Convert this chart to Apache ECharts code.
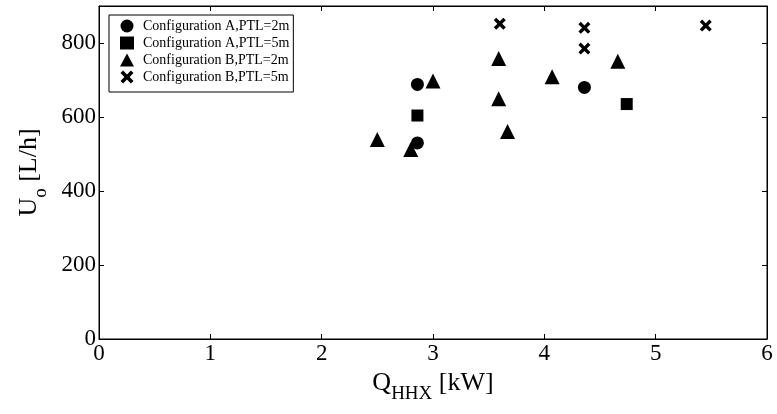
<!DOCTYPE html>
<html><head><meta charset="utf-8">
<script src="https://cdn.jsdelivr.net/npm/echarts@6/dist/echarts.min.js"></script>
<style>html,body{margin:0;padding:0;background:#fff}#c{width:777px;height:414px}</style>
</head><body><div id="c"></div>
<script>
const seriesNames = ['Configuration A,PTL=2m','Configuration A,PTL=5m','Configuration B,PTL=2m','Configuration B,PTL=5m'];
const aPtl2 = [[2.86,688],[2.86,530],[4.36,680]];
const aPtl5 = [[2.86,604],[4.74,635]];
const bPtl2 = [[2.50,539],[2.80,512],[3.00,697],[3.59,758],[3.59,649],[3.67,561],[4.07,709],[4.66,751]];
const bPtl5 = [[3.60,852],[4.36,841],[4.36,785],[5.45,847]];
const xTicks = [0,1,2,3,4,5,6];
const yTicks = [0,200,400,600,800];

const FONT = 'Liberation Serif';
const crossPath = 'path://M2,0L5,3L8,0L10,2L7,5L10,8L8,10L5,7L2,10L0,8L3,5L0,2Z';
const chart = echarts.init(document.getElementById('c'));
const axisLineStyle = {color:'#000', width:1};
const nameRich = {
  a:{fontFamily:FONT,fontSize:26,color:'#000',verticalAlign:'top',lineHeight:30},
  s:{fontFamily:FONT,fontSize:19,color:'#000',verticalAlign:'top',padding:[15,0,0,0],lineHeight:30}
};
chart.setOption({
  animation:false,
  textStyle:{fontFamily:FONT},
  grid:{left:99, right:10, top:6, bottom:75, show:true, borderColor:'#000', borderWidth:1, backgroundColor:'transparent'},
  legend:{
    orient:'vertical', left:109, top:15,
    borderColor:'#000', borderWidth:1, padding:[4,4,8,11],
    itemGap:3, itemWidth:14, itemHeight:13,
    textStyle:{fontFamily:FONT, fontSize:14, color:'#000', padding:[0,0,0,4]},
    data:seriesNames
  },
  xAxis:[{
    type:'value', min:0, max:6, interval:1,
    name:'{a|Q}{s|HHX}{a| [kW]}', nameLocation:'middle', nameGap:22,
    nameTextStyle:{rich:nameRich},
    axisLine:{lineStyle:axisLineStyle},
    axisTick:{inside:true, length:5, lineStyle:axisLineStyle},
    axisLabel:{fontFamily:FONT, fontSize:23, color:'#000', margin:3,
      formatter:v=>xTicks.includes(v)?String(v):''},
    splitLine:{show:false}
  },{
    type:'value', min:0, max:6, interval:1, position:'top', show:true,
    axisLine:{show:true, onZero:false, lineStyle:axisLineStyle},
    axisTick:{show:true, inside:true, length:5, lineStyle:axisLineStyle},
    axisLabel:{show:false}, splitLine:{show:false}
  }],
  yAxis:[{
    type:'value', min:0, max:900, interval:200,
    name:'{a|U}{s|o}{a| [L/h]}', nameLocation:'middle', nameGap:48,
    nameTextStyle:{rich:nameRich},
    axisLine:{lineStyle:axisLineStyle},
    axisTick:{inside:true, length:5, lineStyle:axisLineStyle},
    axisLabel:{fontFamily:FONT, fontSize:23, color:'#000', margin:3, showMaxLabel:false,
      formatter:v=>yTicks.includes(v)?String(v):''},
    splitLine:{show:false}
  },{
    type:'value', min:0, max:900, interval:200, position:'right', show:true,
    axisLine:{show:true, onZero:false, lineStyle:axisLineStyle},
    axisTick:{show:true, inside:true, length:5, lineStyle:axisLineStyle},
    axisLabel:{show:false}, splitLine:{show:false}
  }],
  series:[
    {name:seriesNames[0], type:'scatter', data:aPtl2, symbol:'circle', symbolSize:13, itemStyle:{color:'#000', opacity:1}},
    {name:seriesNames[1], type:'scatter', data:aPtl5, symbol:'rect', symbolSize:12, itemStyle:{color:'#000', opacity:1}},
    {name:seriesNames[2], type:'scatter', data:bPtl2, symbol:'triangle', symbolSize:15, itemStyle:{color:'#000', opacity:1}},
    {name:seriesNames[3], type:'scatter', data:bPtl5, symbol:crossPath, symbolSize:12, itemStyle:{color:'#000', opacity:1}},
    {type:'scatter', xAxisIndex:1, yAxisIndex:1, data:[], silent:true}
  ]
});
</script></body></html>
